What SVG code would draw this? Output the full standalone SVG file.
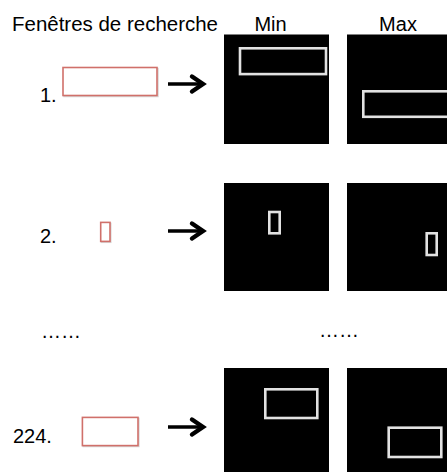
<svg xmlns="http://www.w3.org/2000/svg" width="447" height="472" viewBox="0 0 447 472">
  <defs>
    <style>
      text { font-family: "Liberation Sans", Arial, sans-serif; font-size: 20px; fill: #000; }
      .win { fill: #fff; stroke: #d0706a; stroke-width: 1.6; }
      .shadow { fill: none; stroke: #d8d8d8; stroke-width: 1.5; }
      .img { fill: #000; }
      .det { fill: none; stroke: #e2e2e2; stroke-width: 2.6; }
      .arr { fill: none; stroke: #000; stroke-width: 3.6; stroke-linecap: butt; stroke-linejoin: miter; }
      .head { fill: none; stroke: #000; stroke-width: 4.4; stroke-linecap: round; stroke-linejoin: miter; }
    </style>
    <g id="arrow">
      <path class="arr" d="M0,0 H33"/>
      <path class="head" d="M24,-7.5 L35,0 L24,7.5"/>
    </g>
  </defs>
  <rect width="447" height="472" fill="#fff"/>

  <g id="headers">
    <text x="12" y="31" textLength="206" lengthAdjust="spacingAndGlyphs">Fenêtres de recherche</text>
    <text x="270.5" y="31" text-anchor="middle">Min</text>
    <text x="398" y="31" text-anchor="middle">Max</text>
  </g>

  <g id="row1">
    <text x="40" y="102">1.</text>
    <rect class="shadow" x="64" y="68.5" width="94" height="28"/>
    <rect class="win" x="63" y="67.5" width="94" height="28"/>
    <rect class="img" x="224" y="34.5" width="105" height="109.5"/>
    <rect class="det" x="240" y="48.3" width="86" height="25.8"/>
    <rect class="img" x="347" y="34.5" width="100" height="109.5"/>
    <rect class="det" x="363.3" y="91.3" width="100" height="25.5"/>
  </g>

  <g id="row2">
    <text x="40" y="243">2.</text>
    <rect class="shadow" x="101.5" y="223.3" width="9.3" height="19"/>
    <rect class="win" x="100.7" y="222.4" width="9.3" height="19"/>
    <rect class="img" x="224" y="183" width="105" height="108"/>
    <rect class="det" x="269.3" y="212" width="10.4" height="21.3"/>
    <rect class="img" x="347" y="183" width="100" height="108"/>
    <rect class="det" x="426.7" y="233.3" width="10" height="21.7"/>
  </g>

  <g id="ellipses">
    <text x="41" y="338">……</text>
    <text x="319" y="337">……</text>
  </g>

  <g id="row3">
    <text x="13" y="443">224.</text>
    <rect class="shadow" x="83.3" y="418.3" width="55.6" height="28.2"/>
    <rect class="win" x="82.4" y="417.4" width="55.6" height="28.2"/>
    <rect class="img" x="224" y="368" width="105" height="104"/>
    <rect class="det" x="265.3" y="389.3" width="52" height="28.7"/>
    <rect class="img" x="347" y="368" width="100" height="104"/>
    <rect class="det" x="388.7" y="427.7" width="52.6" height="29.3"/>
  </g>

  <g id="connectors">
    <use href="#arrow" x="168" y="84"/>
    <use href="#arrow" x="168" y="231"/>
    <use href="#arrow" x="168" y="427"/>
  </g>
</svg>
